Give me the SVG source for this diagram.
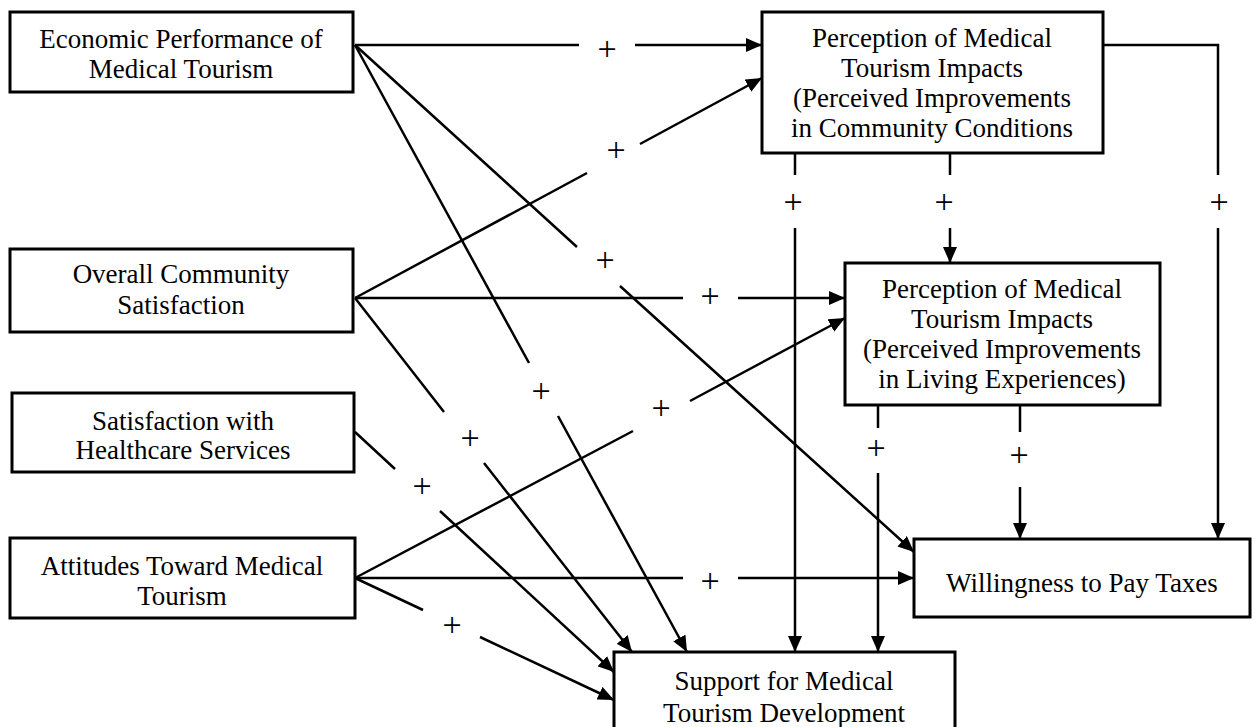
<svg xmlns="http://www.w3.org/2000/svg" width="1260" height="727" viewBox="0 0 1260 727">
<style>
.box{fill:#fff;stroke:#000;stroke-width:3}
.t{font-family:"Liberation Serif","Times New Roman",serif;font-size:27px;fill:#000;text-anchor:middle}
.p{font-family:"Liberation Serif","Times New Roman",serif;font-size:34px;fill:#000;text-anchor:middle}
.c{fill:none;stroke:#000;stroke-width:2.5;marker-end:url(#ah)}
.n{fill:none;stroke:#000;stroke-width:2.5}
</style>
<defs>
<marker id="ah" viewBox="0 0 16 14" refX="16" refY="7" markerWidth="16" markerHeight="14" markerUnits="userSpaceOnUse" orient="auto">
<path d="M0,0 L16,7 L0,14 z" fill="#000"/>
</marker>
</defs>
<rect width="1260" height="727" fill="#fff"/>
<g id="connectors">
<path class="c" d="M355,45 L579,45 M635,45 L762,45"/>
<path class="c" d="M355,45 L577,247 M620,286 L914,552"/>
<path class="c" d="M355,45 L529,363 M558,416 L687,652"/>
<path class="c" d="M355,298 L587,173 M640,144 L762,78"/>
<path class="c" d="M355,298 L683,298 M738,298 L845,298"/>
<path class="c" d="M355,298 L444,412 M484,463 L632,652"/>
<path class="c" d="M355,432 L395,469 M440,511 L614,672"/>
<path class="c" d="M355,578 L633,431 M690,401 L845,318"/>
<path class="c" d="M355,578 L683,578 M738,578 L914,578"/>
<path class="c" d="M355,578 L423,610 M480,637 L614,700"/>
<path class="c" d="M795,153 L795,175 M795,228 L795,652"/>
<path class="c" d="M950,153 L950,175 M950,228 L950,263"/>
<path class="n" d="M1103,45 L1218,45 L1218,175"/>
<path class="c" d="M1218,228 L1218,539"/>
<path class="c" d="M878,405 L878,428 M878,473 L878,652"/>
<path class="c" d="M1020,405 L1020,432 M1020,487 L1020,539"/>
<text class="p" x="607" y="60">+</text>
<text class="p" x="605" y="271">+</text>
<text class="p" x="541" y="402">+</text>
<text class="p" x="616" y="161">+</text>
<text class="p" x="710" y="307">+</text>
<text class="p" x="470" y="449">+</text>
<text class="p" x="422" y="497">+</text>
<text class="p" x="661" y="419">+</text>
<text class="p" x="710" y="592">+</text>
<text class="p" x="452" y="636">+</text>
<text class="p" x="793" y="213">+</text>
<text class="p" x="944" y="213">+</text>
<text class="p" x="1219" y="213">+</text>
<text class="p" x="876" y="459">+</text>
<text class="p" x="1019" y="466">+</text>
</g>
<g id="n1">
<rect class="box" x="10" y="12" width="343" height="80"/>
<text class="t" x="181" y="48">Economic Performance of</text>
<text class="t" x="181" y="78">Medical Tourism</text>
</g>
<g id="n2">
<rect class="box" x="762" y="12" width="341" height="141"/>
<text class="t" x="932" y="47">Perception of Medical</text>
<text class="t" x="932" y="77">Tourism Impacts</text>
<text class="t" x="932" y="107">(Perceived Improvements</text>
<text class="t" x="932" y="137">in Community Conditions</text>
</g>
<g id="n3">
<rect class="box" x="10" y="249" width="343" height="83"/>
<text class="t" x="181" y="283">Overall Community</text>
<text class="t" x="181" y="314">Satisfaction</text>
</g>
<g id="n4">
<rect class="box" x="12" y="393" width="342" height="79"/>
<text class="t" x="183" y="430">Satisfaction with</text>
<text class="t" x="183" y="459">Healthcare Services</text>
</g>
<g id="n5">
<rect class="box" x="10" y="538" width="345" height="80"/>
<text class="t" x="182" y="575">Attitudes Toward Medical</text>
<text class="t" x="182" y="605">Tourism</text>
</g>
<g id="n6">
<rect class="box" x="845" y="263" width="315" height="142"/>
<text class="t" x="1002" y="298">Perception of Medical</text>
<text class="t" x="1002" y="328">Tourism Impacts</text>
<text class="t" x="1002" y="358">(Perceived Improvements</text>
<text class="t" x="1002" y="388">in Living Experiences)</text>
</g>
<g id="n7">
<rect class="box" x="914" y="539" width="336" height="78"/>
<text class="t" x="1082" y="592">Willingness to Pay Taxes</text>
</g>
<g id="n8">
<rect class="box" x="614" y="652" width="341" height="90"/>
<text class="t" x="784" y="690">Support for Medical</text>
<text class="t" x="784" y="722">Tourism Development</text>
</g>
</svg>
